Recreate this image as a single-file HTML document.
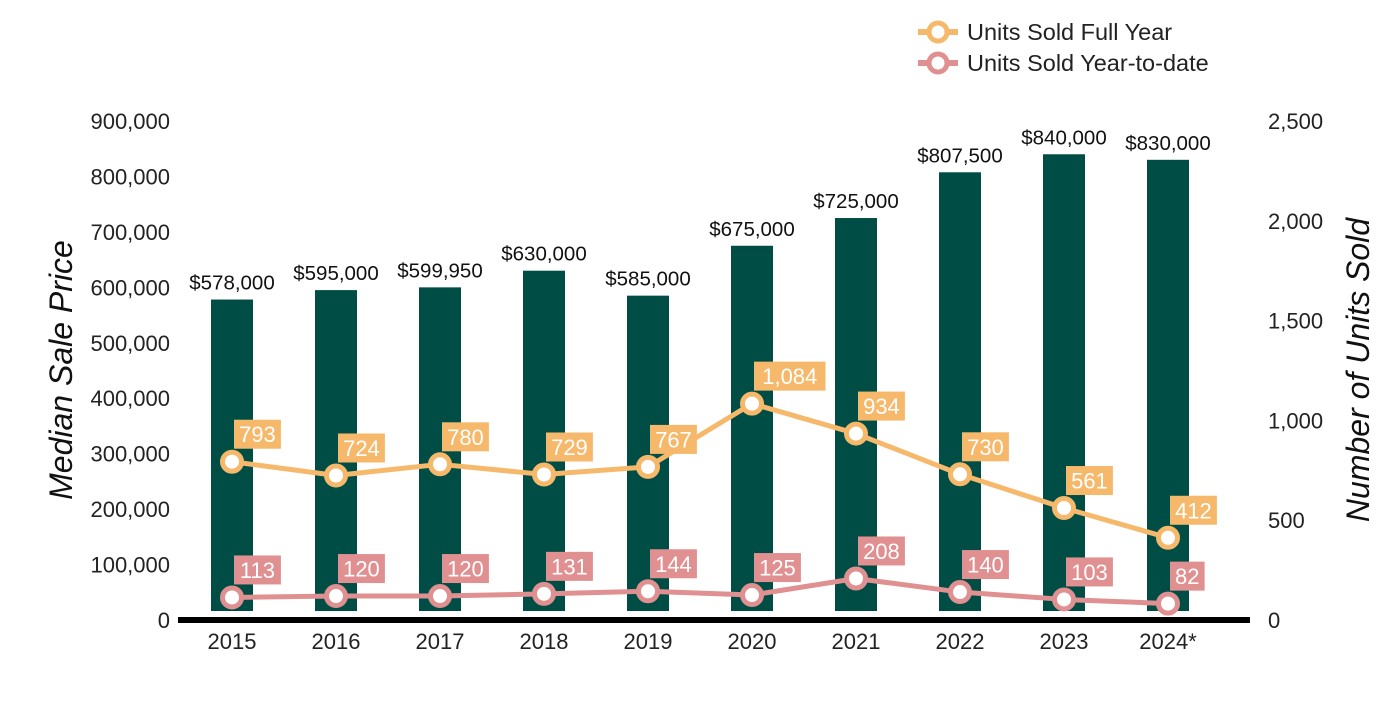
<!DOCTYPE html>
<html><head><meta charset="utf-8"><style>
body{margin:0;background:#fff}
text{font-family:"Liberation Sans",Arial,sans-serif}
</style></head><body>
<svg id="chart" width="1400" height="700" xmlns="http://www.w3.org/2000/svg">
<g id="legend">
 <g>
  <line x1="918" y1="32" x2="958" y2="32" stroke="#f6b96b" stroke-width="6"/>
  <circle cx="938" cy="32" r="9" fill="#fff" stroke="#f6b96b" stroke-width="5"/>
  <text x="967" y="40" font-size="23.5" fill="#222">Units Sold Full Year</text>
 </g>
 <g>
  <line x1="918" y1="63" x2="958" y2="63" stroke="#e09090" stroke-width="6"/>
  <circle cx="938" cy="63" r="9" fill="#fff" stroke="#e09090" stroke-width="5"/>
  <text x="967" y="71" font-size="23.5" fill="#222">Units Sold Year-to-date</text>
 </g>
</g>
<text transform="translate(72,370) rotate(-90)" text-anchor="middle" font-size="32" font-style="italic" fill="#111">Median Sale Price</text>
<text transform="translate(1369,370) rotate(-90)" text-anchor="middle" font-size="32" font-style="italic" fill="#111">Number of Units Sold</text>
<g id="axes"></g>
<g id="bars"></g>
<g id="lines"></g>
</svg>
<script>
const categories=["2015","2016","2017","2018","2019","2020","2021","2022","2023","2024*"];
const prices=[578000,595000,599950,630000,585000,675000,725000,807500,840000,830000];
const fullYear=[793,724,780,729,767,1084,934,730,561,412];
const ytd=[113,120,120,131,144,125,208,140,103,82];
const leftTicks=[0,100000,200000,300000,400000,500000,600000,700000,800000,900000];
const rightTicks=[0,500,1000,1500,2000,2500];
const NS="http://www.w3.org/2000/svg";
const y0=620,yTop=121;
const yL=v=>y0-(v/900000)*(y0-yTop);
const yR=v=>y0-(v/2500)*(y0-yTop);
const xC=i=>232+i*104;
const fmt=n=>n.toLocaleString('en-US');
function mk(tag,attrs,parent,txt){const e=document.createElementNS(NS,tag);for(const k in attrs)e.setAttribute(k,attrs[k]);if(txt!==undefined)e.textContent=txt;parent.appendChild(e);return e;}
const axes=document.getElementById('axes'),bars=document.getElementById('bars'),lines=document.getElementById('lines');
leftTicks.forEach(t=>{const e=mk('text',{x:170,y:yL(t)+8,'text-anchor':'end','font-size':22,fill:'#222'},axes,fmt(t));

});
rightTicks.forEach(t=>{const e=mk('text',{x:1268,y:yR(t)+8,'font-size':22,fill:'#222'},axes,fmt(t));

});
categories.forEach((c,i)=>{const e=mk('text',{x:xC(i),y:649,'text-anchor':'middle','font-size':22,fill:'#222'},axes,c);

});
prices.forEach((p,i)=>{const yt=yL(p);
const r=mk('rect',{x:xC(i)-21,y:yt,width:42,height:611-yt,fill:'#004d45'},bars);


const t=mk('text',{x:xC(i),y:yt-10,'text-anchor':'middle','font-size':20.5,fill:'#111'},bars,'$'+fmt(p));

});
const base=mk('line',{x1:178,y1:620,x2:1250,y2:620,stroke:'#000','stroke-width':6},axes);


function series(vals,color,name){
 const pts=vals.map((v,i)=>xC(i)+','+yR(v)).join(' ');
 const pl=mk('polyline',{points:pts,fill:'none',stroke:color,'stroke-width':5,'stroke-linejoin':'round'},lines);
 
 
 vals.forEach((v,i)=>{const x=xC(i),y=yR(v);
  const c=mk('circle',{cx:x,cy:y,r:9.5,fill:'#fff',stroke:color,'stroke-width':5},lines);
  
  
  const s=fmt(v);const w=s.length*12.3+10;
  const b=mk('rect',{x:x+2,y:y-42,width:w,height:29,fill:color},lines);
  
  
  const t=mk('text',{x:x+2+w/2,y:y-19.5,'text-anchor':'middle','font-size':22,fill:'#fff'},lines,s);
  
  });
}
series(fullYear,'#f6b96b','full-year');
series(ytd,'#e09090','ytd');
</script>
</body></html>
